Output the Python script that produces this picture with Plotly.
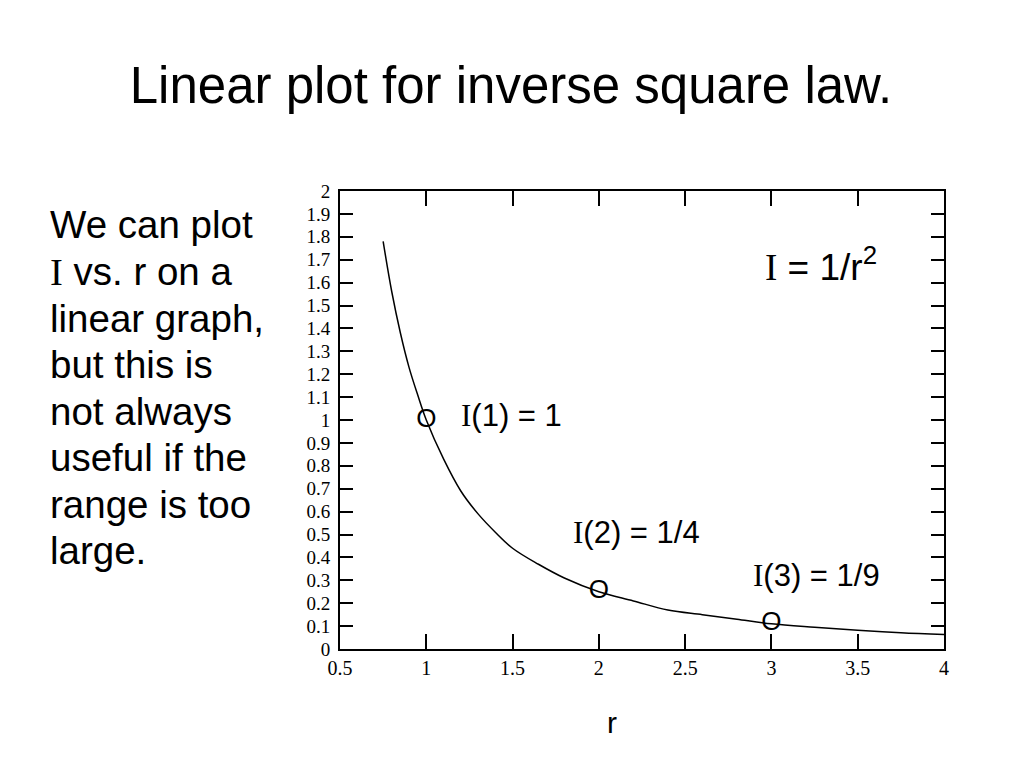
import plotly.graph_objects as go

# curve (I against r)
r_vals = [0.75, 0.8, 0.85, 0.9, 0.95, 1.0, 1.1, 1.2, 1.3, 1.4, 1.5, 1.65, 1.8, 2.0,
          2.2, 2.4, 2.6, 2.8, 3.0, 3.25, 3.5, 3.75, 4.0]
i_vals = [1.78, 1.56, 1.38, 1.23, 1.11, 1.0, 0.83, 0.69, 0.59, 0.51, 0.44, 0.37, 0.31, 0.25,
          0.21, 0.17, 0.15, 0.13, 0.11, 0.095, 0.082, 0.071, 0.063]

# the three marked points
pt_r = [1, 2, 3]
pt_i = [1.0, 0.25, 0.11]

# labels next to the points: (r, I, text after the serif "I")
pt_labels = [(1.19, 1.02, '(1) = 1'), (1.84, 0.51, '(2) = 1/4'), (2.88, 0.32, '(3) = 1/9')]

side_lines = ['We can plot', '<span style="font-family:Liberation Serif">I</span> vs. r on a',
              'linear graph,', 'but this is', 'not always', 'useful if the',
              'range is too', 'large.']

SERIF = 'Liberation Serif, Times New Roman, serif'
SANS = 'Liberation Sans, Arial, sans-serif'

# the page has an 8px body margin, so the plot box sits 8px right/down
OFF = 8
plot_l, plot_r, plot_t, plot_b = 340, 944, 191, 649


def px_to_paper(px, py):
    return (px - plot_l) / (plot_r - plot_l), (plot_b - py) / (plot_b - plot_t)


fig = go.Figure()
fig.add_trace(go.Scatter(x=r_vals, y=i_vals, mode='lines',
                         line=dict(color='black', width=1.5, shape='spline'),
                         hoverinfo='skip'))
fig.add_trace(go.Scatter(x=pt_r, y=pt_i, mode='text', text=['O'] * 3,
                         textfont=dict(family=SANS, size=26, color='black'),
                         textposition='middle center'))

for x, y, s in pt_labels:
    fig.add_annotation(x=x, y=y, xref='x', yref='y', xanchor='left', showarrow=False,
                       text=f'<span style="font-family:Liberation Serif">I</span>{s}',
                       font=dict(family=SANS, size=31, color='black'))

fig.add_annotation(x=2.95, y=1.68, xref='x', yref='y', xanchor='left', showarrow=False,
                   text='<span style="font-family:Liberation Serif">I</span> = 1/r<sup>2</sup>',
                   font=dict(family=SANS, size=37, color='black'))

for k, line in enumerate(side_lines):
    ax, ay = px_to_paper(48, 225 + k * 46.5)
    fig.add_annotation(x=ax, y=ay, xref='paper', yref='paper',
                       text=line, showarrow=False, xanchor='left', yanchor='middle',
                       font=dict(family=SANS, size=38.5, color='black'))

rx, ry = px_to_paper(612, 722)
fig.add_annotation(x=rx, y=ry, xref='paper', yref='paper', text='r', showarrow=False,
                   xanchor='center', yanchor='middle',
                   font=dict(family=SANS, size=30, color='black'))

fig.update_layout(
    width=1024, height=768,
    margin=dict(l=plot_l - OFF, r=1024 - plot_r + OFF, t=plot_t - OFF, b=768 - plot_b + OFF),
    paper_bgcolor='white', plot_bgcolor='white',
    showlegend=False,
    title=dict(text='Linear plot for inverse square law.', x=(511 - OFF) / 1024, xref='container',
               xanchor='center', y=1 - (85 - OFF) / 768, yref='container', yanchor='middle',
               font=dict(family=SANS, size=51, color='black')),
    font=dict(family=SERIF, color='black'),
)

fig.update_xaxes(range=[0.5, 4], dtick=0.5, tick0=0.5, ticks='inside', ticklen=15,
                 tickwidth=2, tickcolor='black', showline=True, linewidth=2,
                 linecolor='black', mirror='ticks', showgrid=False, zeroline=False,
                 tickfont=dict(family=SERIF, size=20))
fig.update_yaxes(range=[0, 2], dtick=0.1, tick0=0, ticks='inside', ticklen=13,
                 tickwidth=2, tickcolor='black', showline=True, linewidth=2,
                 linecolor='black', mirror='ticks', showgrid=False, zeroline=False,
                 tickfont=dict(family=SERIF, size=19), ticklabelstandoff=4)

fig.write_html('out.html')
